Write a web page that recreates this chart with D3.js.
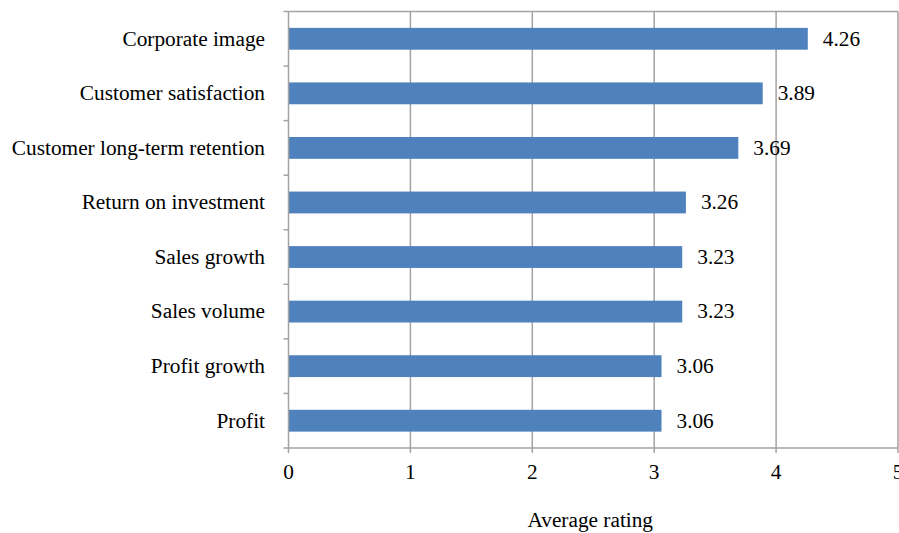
<!DOCTYPE html>
<html><head><meta charset="utf-8">
<script src="https://cdn.jsdelivr.net/npm/d3@7"></script>
<style>
body{margin:0;background:#fff;}
svg text{font-family:"Liberation Serif","Times New Roman",serif;fill:#000;}
</style></head>
<body><svg id="c" width="899" height="533"></svg>
<script>
const categories = ["Corporate image","Customer satisfaction","Customer long-term retention","Return on investment","Sales growth","Sales volume","Profit growth","Profit"];
const values = [4.26,3.89,3.69,3.26,3.23,3.23,3.06,3.06];
const xTicks = [0,1,2,3,4,5];
const xTitle = "Average rating";

const svg = d3.select("#c");
const L=288.5, R=898, T=11.5, B=448;
const x = d3.scaleLinear().domain([0,5]).range([L,R]);
const y = d3.scaleBand().domain(categories).range([T,B]).paddingInner(0.6).paddingOuter(0.3);
const grid="#a3a3a3";
const fs = 21.3;

// gridlines
svg.append("g").selectAll("line").data(xTicks.slice(1)).join("line")
  .attr("x1",d=>x(d)).attr("x2",d=>x(d)).attr("y1",T).attr("y2",B)
  .attr("stroke",grid).attr("stroke-width",1.5);
// top border
svg.append("line").attr("x1",L).attr("x2",R).attr("y1",T).attr("y2",T).attr("stroke",grid).attr("stroke-width",1.5);

// bars
svg.append("g").selectAll("rect").data(values).join("rect")
  .attr("x",x(0)).attr("y",(d,i)=>y(categories[i]))
  .attr("width",d=>x(d)-x(0)).attr("height",y.bandwidth())
  .attr("fill","#4f81bd");

// value labels
svg.append("g").selectAll("text").data(values).join("text")
  .attr("x",d=>x(d)+15).attr("y",(d,i)=>y(categories[i])+y.bandwidth()/2+2)
  .attr("dominant-baseline","middle").attr("font-size",fs)
  .text(d=>d.toFixed(2));

// y axis
const step = y.step();
const boundaries = d3.range(categories.length+1).map(i=>T+i*step);
svg.append("line").attr("x1",L).attr("x2",L).attr("y1",T).attr("y2",B).attr("stroke",grid).attr("stroke-width",1.5);
svg.append("g").selectAll("line").data(boundaries).join("line")
  .attr("x1",L-5).attr("x2",L).attr("y1",d=>d).attr("y2",d=>d).attr("stroke",grid).attr("stroke-width",1.5);
svg.append("g").selectAll("text").data(categories).join("text")
  .attr("x",265).attr("y",d=>y(d)+y.bandwidth()/2+2)
  .attr("text-anchor","end").attr("dominant-baseline","middle").attr("font-size",fs)
  .text(d=>d);

// x axis
svg.append("line").attr("x1",L).attr("x2",R).attr("y1",B).attr("y2",B).attr("stroke",grid).attr("stroke-width",1.5);
svg.append("g").selectAll("line").data(xTicks).join("line")
  .attr("x1",d=>x(d)).attr("x2",d=>x(d)).attr("y1",B).attr("y2",B+5).attr("stroke",grid).attr("stroke-width",1.5);
svg.append("g").selectAll("text").data(xTicks).join("text")
  .attr("x",d=>x(d)).attr("y",479).attr("text-anchor","middle").attr("font-size",fs)
  .text(d=>d);
svg.append("text").attr("x",(L+R)/2-3).attr("y",527).attr("text-anchor","middle").attr("font-size",fs).text(xTitle);
</script></body></html>
